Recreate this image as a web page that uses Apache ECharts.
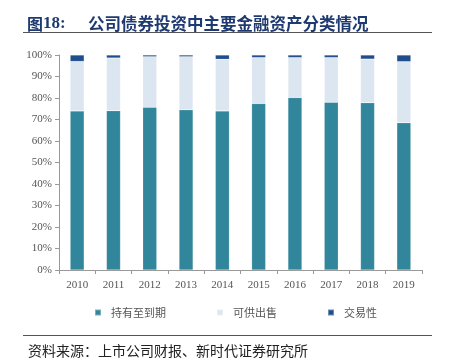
<!DOCTYPE html>
<html>
<head>
<meta charset="utf-8">
<script src="https://cdn.jsdelivr.net/npm/echarts@6/dist/echarts.min.js"></script>
<style>
html,body{margin:0;padding:0;background:#fff;}
#c{width:449px;height:362px;}
</style>
</head>
<body>
<div id="c"></div>
<script>
var categories = ['2010','2011','2012','2013','2014','2015','2016','2017','2018','2019'];
var heldToMaturity = [74.0, 74.1, 75.7, 74.5, 74.0, 77.4, 80.2, 78.0, 77.8, 68.5];
var availableForSale = [23.0, 24.5, 23.5, 24.7, 24.0, 21.4, 18.6, 20.8, 20.3, 28.4];
var trading = [3.0, 1.4, 0.8, 0.8, 2.0, 1.2, 1.2, 1.2, 1.9, 3.1];
var seriesNames = ['持有至到期', '可供出售', '交易性'];
var yTicks = [0, 10, 20, 30, 40, 50, 60, 70, 80, 90, 100];

var chart = echarts.init(document.getElementById('c'), null, {renderer: 'canvas'});
var serif = '"Liberation Serif", "Times New Roman", serif';
var cjk = '"Noto Sans CJK SC", sans-serif';
function bar(name, data, color) {
  return {
    name: name, type: 'bar', stack: 'total', data: data, barWidth: 14,
    itemStyle: {color: color, borderColor: 'rgba(255,255,255,0.35)', borderWidth: 0.5},
    emphasis: {disabled: true}
  };
}
chart.setOption({
  animation: false,
  title: [{
    text: '{a|图}{b|18:}',
    left: 22, top: 10,
    textStyle: {
      rich: {
        a: {fontFamily: cjk, fontSize: 16, fontWeight: 'bold', color: '#1F3A70'},
        b: {fontFamily: serif, fontSize: 17, fontWeight: 'bold', color: '#1F3A70'}
      }
    }
  }, {
    text: '公司债券投资中主要金融资产分类情况',
    left: 83, top: 10,
    textStyle: {fontFamily: cjk, fontSize: 16.5, fontWeight: 'bold', color: '#1F3A70'}
  }, {
    text: '资料来源：上市公司财报、新时代证券研究所',
    left: 23, top: 339,
    textStyle: {fontFamily: cjk, fontSize: 14, fontWeight: 'normal', color: '#222'}
  }],
  graphic: [
    {type: 'line', shape: {x1: 23, y1: 32.5, x2: 432, y2: 32.5}, style: {stroke: '#555', lineWidth: 1}},
    {type: 'line', shape: {x1: 23, y1: 335.5, x2: 432, y2: 335.5}, style: {stroke: '#555', lineWidth: 1}}
  ],
  legend: {
    data: seriesNames,
    left: 89, top: 302, itemGap: 50,
    itemWidth: 6, itemHeight: 6, icon: 'rect',
    textStyle: {fontFamily: cjk, fontSize: 11, color: '#555', padding: [0, 0, 0, 5]}
  },
  grid: {left: 59, right: 27, top: 55, bottom: 92},
  xAxis: {
    type: 'category', data: categories,
    axisLine: {lineStyle: {color: '#999'}},
    axisTick: {show: true, length: 4, lineStyle: {color: '#999'}},
    axisLabel: {fontFamily: serif, fontSize: 11, color: '#555', margin: 10}
  },
  yAxis: {
    type: 'value', min: 0, max: 100, interval: 10,
    axisLine: {show: true, lineStyle: {color: '#999'}},
    axisTick: {show: true, length: 4, lineStyle: {color: '#999'}},
    splitLine: {show: false},
    axisLabel: {fontFamily: serif, fontSize: 11, color: '#555', margin: 7,
      formatter: function (v) { return yTicks.indexOf(v) >= 0 ? v + '%' : ''; }}
  },
  series: [
    bar(seriesNames[0], heldToMaturity, '#31869B'),
    bar(seriesNames[1], availableForSale, '#DCE6F1'),
    bar(seriesNames[2], trading, '#1F4E8C')
  ]
});
</script>
</body>
</html>
